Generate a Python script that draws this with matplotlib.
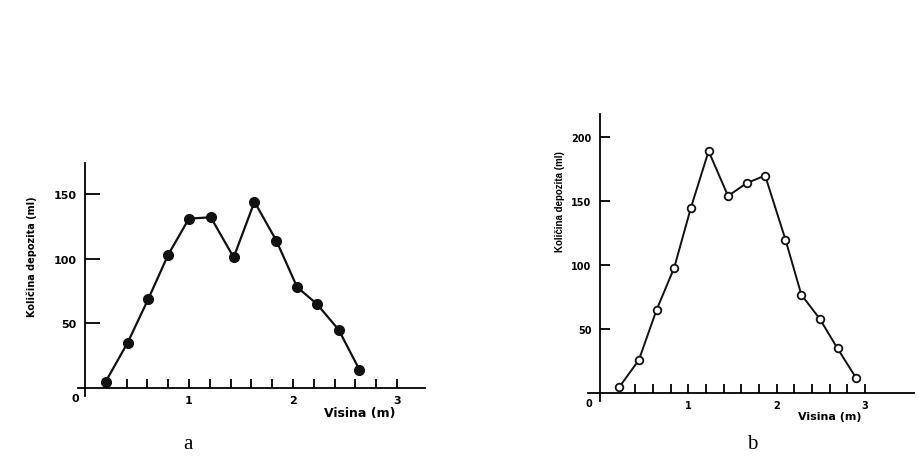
import numpy as np
import matplotlib
matplotlib.use('Agg')
import matplotlib.pyplot as plt

# values
left_x = [0.2, 0.41, 0.61, 0.8, 1.0, 1.21, 1.43, 1.63, 1.84, 2.04, 2.23, 2.44, 2.64]
left_y = [5, 35, 69, 103, 131, 132, 101, 144, 114, 78, 65, 45, 14]
right_x = [0.22, 0.44, 0.64, 0.84, 1.03, 1.23, 1.45, 1.66, 1.87, 2.1, 2.28, 2.49, 2.69, 2.9]
right_y = [5, 26, 65, 98, 145, 189, 154, 164, 170, 120, 77, 58, 35, 12]

left_yticks = [50, 100, 150]
right_yticks = [50, 100, 150, 200]
x_ticks = np.round(np.arange(0.4, 3.01, 0.2), 1)
x_labels = ['1' if t == 1 else '2' if t == 2 else '3' if t == 3 else '' for t in x_ticks]

ylabel = 'Količina depozita (ml)'
xlabel = 'Visina (m)'

W, H = 919, 460
fig = plt.figure(figsize=(W / 100, H / 100), dpi=100)


def px(x0, y0, x1, y1):
    # pixel box (left, top, right, bottom) -> figure fraction rect
    return [x0 / W, 1 - y1 / H, (x1 - x0) / W, (y1 - y0) / H]


def setup(ax, xlim, ylim, yticks, ylen, fs):
    ax.set_xlim(*xlim)
    ax.set_ylim(*ylim)
    for s in ['top', 'right']:
        ax.spines[s].set_visible(False)
    ax.spines['left'].set_position(('data', 0))
    ax.spines['bottom'].set_position(('data', 0))
    for s in ['left', 'bottom']:
        ax.spines[s].set_linewidth(1.3)
    ax.set_xticks(x_ticks)
    ax.set_xticklabels(x_labels, fontsize=fs, fontweight='bold')
    ax.set_yticks(yticks)
    ax.set_yticklabels([str(v) for v in yticks], fontsize=fs, fontweight='bold')
    ax.tick_params(axis='x', direction='in', length=6.5, width=1.3, pad=5)
    ax.tick_params(axis='y', direction='in', length=ylen, width=1.3, pad=6)
    ax.set_facecolor('none')


# panel a
ax1 = fig.add_axes(px(78, 164, 425, 397))
setup(ax1, (-0.067, 3.27), (-6.2, 174), left_yticks, 11, 8)
ax1.plot(left_x, left_y, color='#111111', lw=1.6, marker='o', ms=7,
         mfc='#111111', mec='#111111', clip_on=False)
ax1.annotate('0', (0, 0), xytext=(-7, -7), textcoords='offset points',
             ha='center', va='center', fontsize=8, fontweight='bold')
fig.text(360 / W, 1 - 414 / H, xlabel, ha='center', va='center',
         fontsize=9, fontweight='bold')
fig.text(32 / W, 1 - 257 / H, ylabel, ha='center', va='center',
         rotation=90, fontsize=7, fontweight='bold')

# panel b
ax2 = fig.add_axes(px(588, 115, 914, 402))
setup(ax2, (-0.136, 3.556), (-6, 218), right_yticks, 7, 7)
ax2.plot(right_x, right_y, color='#111111', lw=1.4, marker='o', ms=5.5,
         mfc='white', mec='#111111', mew=1.3, clip_on=False)
ax2.annotate('0', (0, 0), xytext=(-8, -7), textcoords='offset points',
             ha='center', va='center', fontsize=7, fontweight='bold')
fig.text(830 / W, 1 - 417 / H, xlabel, ha='center', va='center',
         fontsize=8, fontweight='bold')
fig.text(560 / W, 1 - 202 / H, ylabel, ha='center', va='center',
         rotation=90, fontsize=7, fontweight='bold', family='Liberation Sans')

fig.text(188 / W, 1 - 445 / H, 'a', ha='center', va='center',
         fontsize=15, family='Liberation Serif')
fig.text(752 / W, 1 - 445 / H, 'b', ha='center', va='center',
         fontsize=15, family='Liberation Serif')

fig.savefig('out.png', dpi=100)
